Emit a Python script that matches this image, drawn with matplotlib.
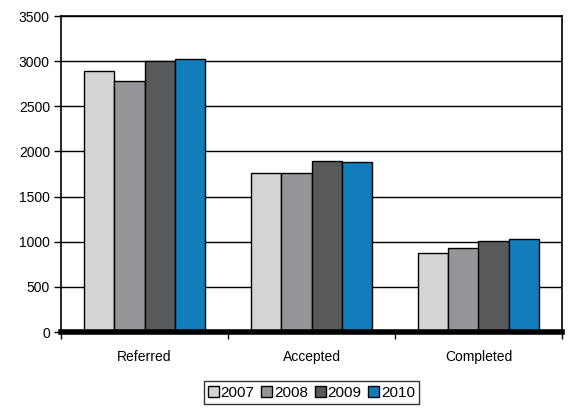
import matplotlib.pyplot as plt
import numpy as np

plt.rcParams['font.family'] = ['Liberation Sans', 'DejaVu Sans']

categories = ["Referred", "Accepted", "Completed"]
years = ["2007", "2008", "2009", "2010"]
v2007 = [2890, 1760, 870]
v2008 = [2780, 1760, 925]
v2009 = [3000, 1895, 1010]
v2010 = [3020, 1880, 1035]
colors = ["#d3d4d6", "#939598", "#58595b", "#117dbb"]

series = [v2007, v2008, v2009, v2010]

fig = plt.figure(figsize=(5.71, 4.08), dpi=100)
ax = fig.add_axes([61 / 571, 1 - 332 / 408, 501 / 571, 316 / 408])

x = np.arange(len(categories))
w = 0.18
for i, (vals, c, lab) in enumerate(zip(series, colors, years)):
    ax.bar(x + (i - 1.5) * w, vals, width=w, color=c, edgecolor="black",
           linewidth=1.0, label=lab, zorder=3)

ax.set_xlim(-0.5, 2.5)
ax.set_ylim(0, 3500)
ax.set_yticks(np.arange(0, 3501, 500))
ax.yaxis.grid(True, color="black", linewidth=1.0, zorder=0)
ax.set_axisbelow(True)

ax.set_xticks(x)
ax.set_xticklabels(categories, fontsize=10)
ax.tick_params(axis="x", length=0, pad=13)
ax.set_xticks([-0.5, 0.5, 1.5, 2.5], minor=True)
ax.tick_params(axis="x", which="minor", length=5, width=1, direction="out")
ax.tick_params(axis="y", labelsize=10, length=5, width=1, pad=3)

for s in ["left", "right", "top"]:
    ax.spines[s].set_linewidth(1.2)
ax.spines["bottom"].set_linewidth(4)
ax.spines["bottom"].set_zorder(5)

leg = ax.legend(loc="upper center", bbox_to_anchor=(0.5, -0.155), ncol=4,
                frameon=True, fancybox=False, edgecolor="black", fontsize=11,
                handlelength=0.72, handleheight=0.72, handletextpad=0.1,
                columnspacing=0.45, borderpad=0.3, borderaxespad=0)
leg.get_frame().set_linewidth(1.0)

fig.savefig("out.png", dpi=100)
